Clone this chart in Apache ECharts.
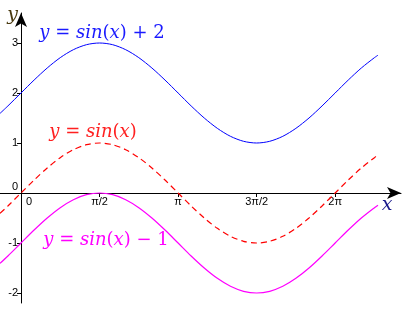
<!DOCTYPE html>
<html><head><meta charset="utf-8">
<script src="https://cdn.jsdelivr.net/npm/echarts@6/dist/echarts.min.js"></script>
<style>html,body{margin:0;padding:0;background:#fff}#c{width:410px;height:310px}</style>
</head><body><div id="c"></div>
<script>
var xs = [-0.42, -0.262, 0, 0.262, 0.524, 0.785, 1.047, 1.309, 1.571, 1.833, 2.094, 2.356, 2.618, 2.880, 3.142, 3.403, 3.665, 3.927, 4.189, 4.451, 4.712, 4.974, 5.236, 5.498, 5.760, 6.021, 6.283, 6.545, 6.807, 7.069, 7.14];
var sinVals = [-0.408, -0.259, 0, 0.259, 0.5, 0.707, 0.866, 0.966, 1, 0.966, 0.866, 0.707, 0.5, 0.259, 0, -0.259, -0.5, -0.707, -0.866, -0.966, -1, -0.966, -0.866, -0.707, -0.5, -0.259, 0, 0.259, 0.5, 0.707, 0.756];
var sinPlus2 = [1.592, 1.741, 2, 2.259, 2.5, 2.707, 2.866, 2.966, 3, 2.966, 2.866, 2.707, 2.5, 2.259, 2, 1.741, 1.5, 1.293, 1.134, 1.034, 1, 1.034, 1.134, 1.293, 1.5, 1.741, 2, 2.259, 2.5, 2.707, 2.756];
var sinMinus1 = [-1.408, -1.259, -1, -0.741, -0.5, -0.293, -0.134, -0.034, 0, -0.034, -0.134, -0.293, -0.5, -0.741, -1, -1.259, -1.5, -1.707, -1.866, -1.966, -2, -1.966, -1.866, -1.707, -1.5, -1.259, -1, -0.741, -0.5, -0.293, -0.244];
var xTickValues = [0, 1.5708, 3.1416, 4.7124, 6.2832];
var xTickLabels = ['0', 'π/2', 'π', '3π/2', '2π'];
var yTickValues = [-2, -1, 0, 1, 2, 3];

function pairs(ys){ return xs.map(function(x,i){ return [x, ys[i]]; }); }
function mathRich(color){
  return {
    i: {fontFamily: 'DejaVu Serif', fontStyle: 'italic', fontSize: 18, color: color},
    n: {fontFamily: 'DejaVu Serif', fontSize: 18, color: color}
  };
}
function eqLabel(coord, text, color){
  return {
    symbol: 'circle', symbolSize: 1, silent: true,
    itemStyle: {color: 'rgba(0,0,0,0)'},
    data: [{coord: coord}],
    label: {show: true, position: 'inside', formatter: text, rich: mathRich(color)}
  };
}

var X_MIN = -0.42, X_MAX = 7.6, Y_MIN = -2.2, Y_MAX = 3.6;
var chart = echarts.init(document.getElementById('c'), null, {renderer: 'canvas'});
var gridLeft = 0, gridRight = 9, gridTop = 13, gridBottom = 7;
var plotW = 410 - gridLeft - gridRight, plotH = 310 - gridTop - gridBottom;
// offsets so that axes sit on the zero lines of the other axis
var yAxisOffset = -plotW * (0 - X_MIN) / (X_MAX - X_MIN);
var xAxisOffset = -plotH * (0 - Y_MIN) / (Y_MAX - Y_MIN);
chart.setOption({
  animation: false,
  grid: {left: gridLeft, right: gridRight, top: gridTop, bottom: gridBottom, containLabel: false, outerBoundsMode: 'none'},
  xAxis: {
    type: 'value', min: X_MIN, max: X_MAX, position: 'bottom', offset: xAxisOffset,
    name: 'x', nameLocation: 'end', nameGap: -14,
    nameTextStyle: {fontFamily: 'DejaVu Serif', fontStyle: 'italic', fontSize: 19, color: '#1a1a8c', align: 'center', verticalAlign: 'top', padding: [3, 0, 0, 0]},
    axisLine: {onZero: false, symbol: ['none', 'arrow'], symbolSize: [9, 14], lineStyle: {color: '#000', width: 1}},
    axisTick: {show: true, length: 4, customValues: xTickValues, lineStyle: {color: '#000'}},
    axisLabel: {show: true, customValues: xTickValues, margin: 3, fontFamily: 'Liberation Sans', fontSize: 11, color: '#000',
      formatter: function(v){ var k = xTickValues.indexOf(v); var t = k >= 0 ? xTickLabels[k] : ''; return v === 0 ? '{z|' + t + '}' : t; },
      rich: {z: {fontFamily: 'Liberation Sans', fontSize: 11, color: '#000', padding: [0, 0, 0, 16]}}},
    splitLine: {show: false}
  },
  yAxis: {
    type: 'value', min: Y_MIN, max: Y_MAX, position: 'left', offset: yAxisOffset,
    name: 'y', nameLocation: 'end', nameGap: -2,
    nameTextStyle: {fontFamily: 'DejaVu Serif', fontStyle: 'italic', fontSize: 19, color: '#4a3a10', align: 'right', verticalAlign: 'middle', padding: [0, 3, 0, 0]},
    axisLine: {onZero: false, symbol: ['none', 'arrow'], symbolSize: [9, 14], lineStyle: {color: '#000', width: 1}},
    axisTick: {show: true, length: 4, customValues: yTickValues, lineStyle: {color: '#000'}},
    axisLabel: {show: true, customValues: yTickValues, margin: 3, fontFamily: 'Liberation Sans', fontSize: 11, color: '#000',
      formatter: function(v){ return v === 0 ? '{z|0}' : String(v); },
      rich: {z: {fontFamily: 'Liberation Sans', fontSize: 11, color: '#000', padding: [0, 0, 12, 0]}}},
    splitLine: {show: false}
  },
  series: [
    {type: 'line', data: pairs(sinPlus2), smooth: 0.3, showSymbol: false, lineStyle: {color: '#0000ff', width: 1},
      markPoint: eqLabel([1.62, 3.2], '{i|y}{n| = }{i|sin}{n|(}{i|x}{n|) + 2}', '#1a1aff')},
    {type: 'line', data: pairs(sinVals), smooth: 0.3, showSymbol: false, lineStyle: {color: '#ff0000', width: 1.2, type: [6, 4]},
      markPoint: eqLabel([1.44, 1.22], '{i|y}{n| = }{i|sin}{n|(}{i|x}{n|)}', '#ff2020')},
    {type: 'line', data: pairs(sinMinus1), smooth: 0.3, showSymbol: false, lineStyle: {color: '#ff00ff', width: 1.2},
      markPoint: eqLabel([1.7, -0.94], '{i|y}{n| = }{i|sin}{n|(}{i|x}{n|) − 1}', '#ff00ff')}
  ]
});
</script></body></html>
